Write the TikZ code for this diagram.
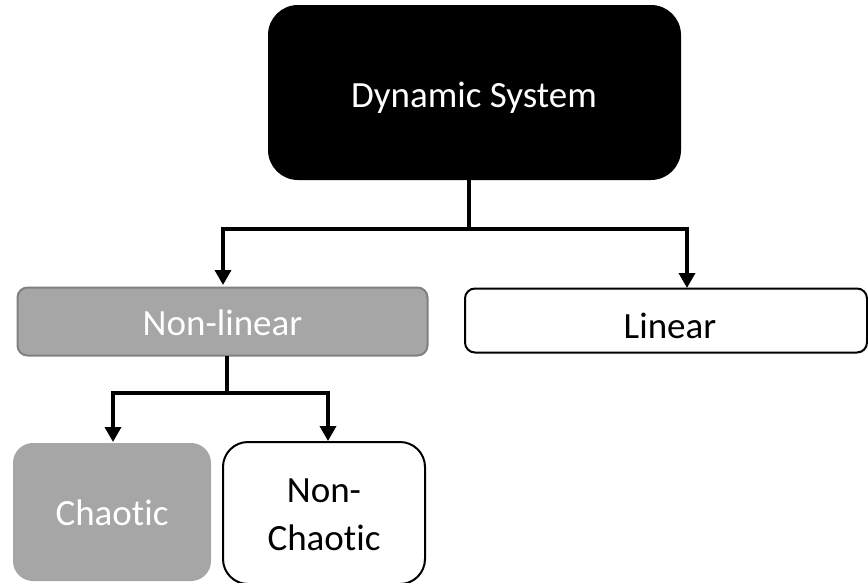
\documentclass[tikz,border=0pt]{standalone}
\usepackage{fontspec}
\setmainfont{Carlito}[Ligatures={NoCommon}]
\usetikzlibrary{arrows.meta}
\definecolor{boxgray}{HTML}{A6A6A6}
\definecolor{edgegray}{HTML}{808080}
\newcommand{\Chaotic}{Chaot\kern0pt ic}
\tikzset{
  box/.style={rectangle, inner sep=0pt, outer sep=0pt},
  lbl/.style={inner sep=0pt, anchor=base, align=center,
    font=\fontsize{37}{48}\selectfont},
  conn/.style={line width=3.5pt, -{Triangle[width=16pt,length=15pt]}},
  connplain/.style={line width=3.5pt}
}
\begin{document}
\begin{tikzpicture}[x=1pt,y=-1pt]
\useasboundingbox (0,0) rectangle (868,582);
% nodes
\node[box, fill=black, rounded corners=30pt,
  minimum width=413pt, minimum height=175pt] (ds) at (474.5,92.5) {};
\node[lbl, text=white] (dst) at (474,107) {Dynamic System};
\node[box, fill=boxgray, draw=edgegray, line width=2pt, rounded corners=10pt,
  minimum width=410pt, minimum height=68pt] (nl) at (222.5,321.5) {};
\node[lbl, text=white] (nlt) at (222.5,335) {Non-linear};
\node[box, fill=white, draw=black, line width=2pt, rounded corners=10pt,
  minimum width=402pt, minimum height=64pt] (lin) at (666,320.5) {};
\node[lbl, text=black] (lint) at (670,338) {Linear};
\node[box, fill=boxgray, rounded corners=20pt,
  minimum width=198pt, minimum height=138pt] (ch) at (112,512) {};
\node[lbl, text=white] (cht) at (112,525) {\Chaotic};
\node[box, fill=white, draw=black, line width=2pt, rounded corners=25pt,
  minimum width=202pt, minimum height=142pt] (nc) at (324,513) {};
\node[lbl, text=black] (nct) at (324,550) {Non-\\\Chaotic};
% connectors
\coordinate (j1) at (469,229);
\coordinate (j2) at (227,393);
\draw[connplain] (ds.south -| j1) -- (j1);
\draw[conn] (j1) -- (223,229) -- (223,285);
\draw[conn] (j1) -- (687,229) -- (687,288);
\draw[connplain] (nl.south -| j2) -- (j2);
\draw[conn] (j2) -- (113,393) -- (113,442);
\draw[conn] (j2) -- (328,393) -- (328,441);
\end{tikzpicture}
\end{document}
